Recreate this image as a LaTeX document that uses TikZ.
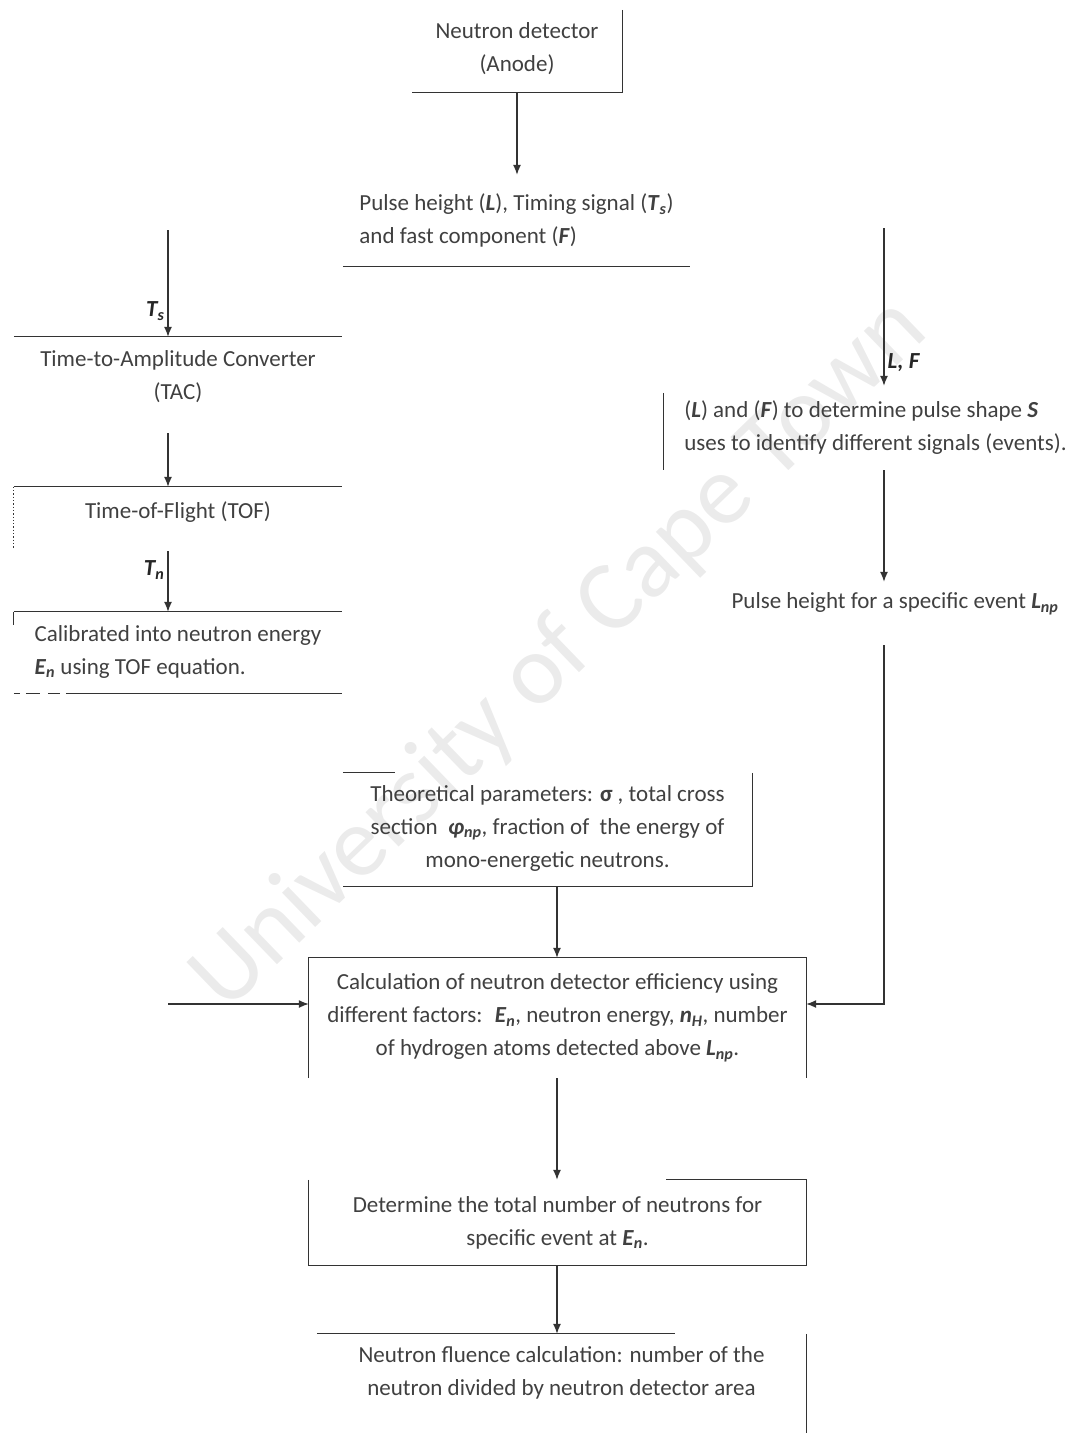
\documentclass[tikz,border=0pt]{standalone}
\usepackage{fontspec}
\setmainfont{Carlito}
\usetikzlibrary{arrows.meta,calc}
\newcommand{\myBI}[1]{\textbf{\textit{#1}}}
\begin{document}
\begin{tikzpicture}[x=1pt,y=-1pt,
  box/.style={inner sep=0pt, font=\fontsize{23}{33}\selectfont, text=black!75},
  edge/.style={draw=black!80, line width=1.3pt},
  arr/.style={edge, -{Latex[length=10pt,width=8pt]}},
  lbl/.style={font=\fontsize{23}{28}\selectfont\bfseries\itshape, text=black!85, inner sep=3pt}]
\useasboundingbox (0,0) rectangle (1087,1433);
% watermark
\node[rotate=44, text=black!8, font=\fontsize{100}{100}\selectfont] (wm) at (560,655) {University of Cape Town};
% coordinates for columns
\coordinate (inL) at (168,230);
\coordinate (inR) at (884,228);
\coordinate (colC) at (557,0);
\coordinate (inE) at (168,1004);
\coordinate (bot) at (0,1433);
% nodes
\node[box, align=center, minimum width=210pt, minimum height=86pt] (det) at (517,49) {Neutron detector\\(Anode)};
\node[box, align=left, minimum width=347pt, minimum height=91pt] (ph) at (516.5,220.5) {Pulse height (\myBI{L}), Timing signal (\myBI{T}\textsubscript{\myBI{s}})\\and fast component (\myBI{F})};
\node[box, align=center, minimum width=328pt, minimum height=80pt] (tac) at (178,377) {Time-to-Amplitude Converter\\(TAC)};
\node[box, align=center, minimum width=328pt, minimum height=50pt] (tof) at (178,512) {Time-of-Flight (TOF)};
\node[box, align=left, minimum width=328pt, minimum height=79pt] (cal) at (178,651.5) {Calibrated into neutron energy\\\myBI{E}\textsubscript{\myBI{n}} using TOF equation.};
\node[box, align=left, minimum width=423pt, minimum height=84pt] (pss) at (875.5,428) {(\myBI{L}) and (\myBI{F}) to determine pulse shape \myBI{S}\\uses to identify different signals (events).};
\node[box, align=center, minimum height=44pt] (phs) at (895,604) {Pulse height for a specific event \myBI{L}\textsubscript{\myBI{np}}};
\node[box, align=center, minimum width=409pt, minimum height=116pt] (theo) at (547.5,828) {Theoretical parameters: \textbf{σ} , total cross\\section \ \myBI{φ}\textsubscript{\myBI{np}}, fraction of \ the energy of\\mono-energetic neutrons.};
\node[box, align=center, minimum width=497pt, minimum height=120pt] (eff) at (557.5,1018) {Calculation of neutron detector efficiency using\\different factors: \ \myBI{E}\textsubscript{\myBI{n}}, neutron energy, \myBI{n}\textsubscript{\myBI{H}}, number\\of hydrogen atoms detected above \myBI{L}\textsubscript{\myBI{np}}.};
\node[box, align=center, minimum width=497pt, minimum height=85pt] (tot) at (557.5,1222.5) {Determine the total number of neutrons for\\specific event at \myBI{E}\textsubscript{\myBI{n}}.};
\node[box, align=center, minimum width=489pt, minimum height=78pt] (flu) at (561.5,1373) {Neutron fluence calculation: number of the\\neutron divided by neutron detector area};
% partial borders
\draw[edge] ($(det.north east)+(0,4)$) -- (det.south east) -- (det.south west);
\draw[edge] (ph.south west) -- (ph.south east);
\draw[edge] (tac.north west) -- (tac.north east);
\draw[edge] (tof.north west) -- (tof.north east);
\draw[edge, dotted] (tof.north west) -- ($(tof.south west)+(0,11)$);
\draw[edge] (cal.north west) -- (cal.north east);
\draw[edge] (cal.north west) -- ++(0,13);
\draw[edge, dash pattern=on 6pt off 6pt on 14pt off 8pt on 12pt off 6pt on 400pt off 0pt] ($(cal.south west)+(0,2)$) -- ($(cal.south east)+(0,2)$);
\draw[edge] ($(pss.north west)+(0,7)$) -- (pss.south west);
\draw[edge] ($(theo.north east)+(0,3)$) -- (theo.south east) -- (theo.south west);
\draw[edge] ($(theo.north west)+(0,3)$) -- ++(52,0);
\draw[edge] (eff.south west) -- (eff.north west) -- (eff.north east) -- (eff.south east);
\draw[edge] (tot.north west) -- (tot.south west) -- (tot.south east) -- (tot.north east) -- ++(-140,0);
\draw[edge] (flu.north west) -- ++(358,0);
\draw[edge] (flu.north east) -- (flu.north east |- bot);
% connectors
\draw[arr] (det.south) -- (det.south |- ph.north);
\draw[arr] (inL) -- (inL |- tac.north) node[lbl, left, pos=0.76] {T\textsubscript{s}};
\draw[arr] ($(inL |- tac.south)+(0,16)$) -- (inL |- tof.north);
\draw[arr] ($(inL |- tof.south)+(0,14)$) -- (inL |- cal.north) node[lbl, left, pos=0.31] {T\textsubscript{n}};
\draw[arr] (inR) -- (inR |- pss.north) node[lbl, right, pos=0.85] {L, F};
\draw[arr] (inR |- pss.south) -- (inR |- phs.north);
\draw[arr] ($(inR |- phs.south)+(0,19)$) -- (inR |- inE) -- (inE -| eff.east);
\draw[arr] (inE) -- (inE -| eff.west);
\draw[arr] (colC |- theo.south) -- (colC |- eff.north);
\draw[arr] (colC |- eff.south) -- (colC |- tot.north);
\draw[arr] (colC |- tot.south) -- (colC |- flu.north);
\end{tikzpicture}
\end{document}
